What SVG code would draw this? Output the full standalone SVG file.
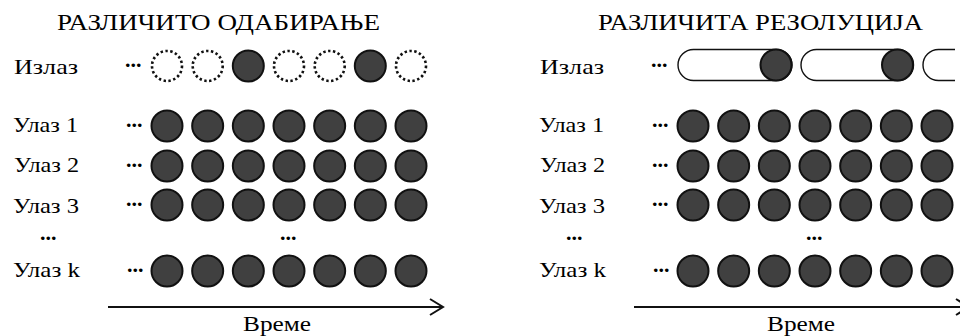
<svg xmlns="http://www.w3.org/2000/svg" width="960" height="336" viewBox="0 0 960 336">
<style>
text{font-family:"Liberation Serif","Times New Roman",serif;fill:#000;font-size:22px}
.t{text-anchor:middle;font-size:23px}
.b{font-size:21px}
.dots{font-weight:bold;font-size:22px}
.f{fill:#404040;stroke:#111;stroke-width:2}
.d{fill:none;stroke:#111;stroke-width:2.6;stroke-dasharray:2.4 2.5}
.cap{fill:#fff;stroke:#111;stroke-width:1.4}
.ax{stroke:#111;stroke-width:2;fill:none}
</style>
<defs>
<marker id="ah" markerWidth="16" markerHeight="18" refX="14" refY="9" orient="auto" markerUnits="userSpaceOnUse">
<path d="M1,1 L14,9 L1,17" fill="none" stroke="#111" stroke-width="2"/>
</marker>
<g id="row">
<circle class="f" cx="0" cy="0" r="15.5"/>
<circle class="f" cx="40.67" cy="0" r="15.5"/>
<circle class="f" cx="81.33" cy="0" r="15.5"/>
<circle class="f" cx="122" cy="0" r="15.5"/>
<circle class="f" cx="162.67" cy="0" r="15.5"/>
<circle class="f" cx="203.33" cy="0" r="15.5"/>
<circle class="f" cx="244" cy="0" r="15.5"/>
</g>
</defs>

<g id="left-panel">
<text class="t" x="218.5" y="30" textLength="323" lengthAdjust="spacingAndGlyphs">РАЗЛИЧИТО ОДАБИРАЊЕ</text>
<g id="left-out">
<text x="14" y="74" textLength="64" lengthAdjust="spacingAndGlyphs">Излаз</text>
<text class="dots" x="125" y="67">...</text>
<circle class="d" cx="167" cy="66" r="15"/>
<circle class="d" cx="207.7" cy="66" r="15"/>
<circle class="f" cx="248.3" cy="66" r="15.5"/>
<circle class="d" cx="289" cy="66" r="15"/>
<circle class="d" cx="329.7" cy="66" r="15"/>
<circle class="f" cx="370.3" cy="66" r="15.5"/>
<circle class="d" cx="411" cy="66" r="15"/>
</g>
<g id="left-in1"><text x="13" y="132" textLength="65" lengthAdjust="spacingAndGlyphs">Улаз 1</text><text class="dots" x="126" y="127">...</text><use href="#row" x="167" y="126"/></g>
<g id="left-in2"><text x="14" y="172" textLength="65" lengthAdjust="spacingAndGlyphs">Улаз 2</text><text class="dots" x="126" y="167">...</text><use href="#row" x="167" y="166"/></g>
<g id="left-in3"><text x="13" y="213" textLength="66" lengthAdjust="spacingAndGlyphs">Улаз 3</text><text class="dots" x="126" y="206">...</text><use href="#row" x="167" y="205"/></g>
<text class="dots" x="40" y="240">...</text>
<text class="dots" x="280" y="240">...</text>
<g id="left-ink"><text x="13" y="277" textLength="67" lengthAdjust="spacingAndGlyphs">Улаз k</text><text class="dots" x="127" y="272">...</text><use href="#row" x="167" y="271"/></g>
<text class="t b" x="277" y="331" textLength="68" lengthAdjust="spacingAndGlyphs">Време</text>
</g>

<g id="right-panel">
<text class="t" x="760.5" y="30" textLength="325" lengthAdjust="spacingAndGlyphs">РАЗЛИЧИТА РЕЗОЛУЦИЈА</text>
<g id="right-out">
<text x="540" y="74" textLength="64" lengthAdjust="spacingAndGlyphs">Излаз</text>
<text class="dots" x="651" y="67">...</text>
<rect class="cap" x="678" y="49.5" width="114" height="31" rx="15.5"/>
<circle class="f" cx="776" cy="65" r="15.5"/>
<rect class="cap" x="801" y="49.5" width="112.5" height="31" rx="15.5"/>
<circle class="f" cx="897.5" cy="65" r="15.5"/>
<path class="cap" d="M955,49.5 H938.5 A15.5,15.5 0 0 0 938.5,80.5 H955" fill="none"/>
</g>
<g id="right-in1"><text x="539" y="132" textLength="65" lengthAdjust="spacingAndGlyphs">Улаз 1</text><text class="dots" x="652" y="127">...</text><use href="#row" x="693" y="126"/></g>
<g id="right-in2"><text x="540" y="172" textLength="65" lengthAdjust="spacingAndGlyphs">Улаз 2</text><text class="dots" x="652" y="167">...</text><use href="#row" x="693" y="166"/></g>
<g id="right-in3"><text x="539" y="213" textLength="66" lengthAdjust="spacingAndGlyphs">Улаз 3</text><text class="dots" x="652" y="206">...</text><use href="#row" x="693" y="205"/></g>
<text class="dots" x="566" y="240">...</text>
<text class="dots" x="806" y="240">...</text>
<g id="right-ink"><text x="539" y="277" textLength="67" lengthAdjust="spacingAndGlyphs">Улаз k</text><text class="dots" x="653" y="272">...</text><use href="#row" x="693" y="271"/></g>
<text class="t b" x="801" y="331" textLength="68" lengthAdjust="spacingAndGlyphs">Време</text>
</g>

<g id="connectors">
<line class="ax" x1="108" y1="307" x2="443" y2="307" marker-end="url(#ah)"/>
<line class="ax" x1="634" y1="307" x2="969" y2="307" marker-end="url(#ah)"/>
</g>
</svg>
